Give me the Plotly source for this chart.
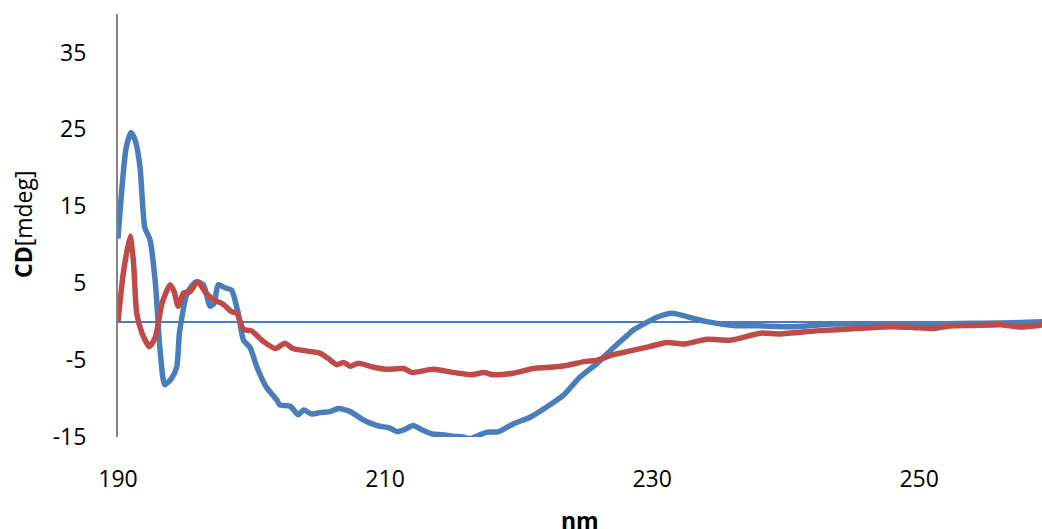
import plotly.graph_objects as go

# CD spectra: wavelength (nm) and ellipticity (mdeg)
blue_nm = [190.0, 190.3, 190.6, 190.97, 191.3, 191.65, 192.0, 192.4, 192.8, 193.15, 193.5,
           194.0, 194.4, 194.6, 195.1, 195.5, 195.9, 196.4, 196.9, 197.2, 197.5, 198.0,
           198.5, 199.0, 199.4, 199.9, 200.4, 201.1, 201.9, 202.1, 202.9, 203.5, 203.9,
           204.5, 205.2, 205.9, 206.5, 207.4, 208.2, 208.9, 209.6, 210.3, 210.9, 211.5,
           212.1, 212.8, 213.5, 214.3, 215.1, 215.8, 216.4, 217.0, 217.6, 218.5, 219.6,
           220.9, 222.1, 223.4, 224.6, 225.9, 227.1, 228.0, 228.6, 229.5, 230.4, 231.5,
           232.6, 234.1, 236.1, 238.0, 240.6, 242.0, 243.6, 245.0, 247.0, 249.0, 251.0,
           253.0, 255.0, 257.0, 259.3]
blue_cd = [10.8, 17.5, 22.5, 24.6, 23.5, 20.1, 12.3, 10.6, 5.0, -3.7, -8.2,
           -7.4, -5.9, -1.5, 3.3, 4.6, 5.2, 4.8, 2.0, 2.4, 4.8, 4.4,
           4.1, 1.1, -2.4, -3.4, -5.9, -8.5, -10.2, -10.8, -11.0, -12.1, -11.5,
           -12.0, -11.8, -11.7, -11.3, -11.7, -12.6, -13.2, -13.6, -13.8, -14.3, -14.0,
           -13.5, -14.1, -14.6, -14.7, -14.9, -15.0, -15.2, -14.8, -14.4, -14.3, -13.3,
           -12.4, -11.1, -9.5, -7.2, -5.4, -3.4, -2.0, -1.1, -0.2, 0.6, 1.1,
           0.65, 0.0, -0.5, -0.55, -0.65, -0.5, -0.3, -0.3, -0.3, -0.35, -0.3,
           -0.25, -0.2, -0.15, 0.0]

red_nm = [190.0, 190.4, 190.9, 191.15, 191.4, 191.8, 192.35, 192.8, 193.3, 193.9, 194.2,
          194.5, 194.9, 195.4, 195.95, 196.6, 197.2, 197.85, 198.5, 198.9, 199.4, 200.0,
          200.9, 201.8, 202.5, 203.1, 204.1, 205.1, 205.75, 206.4, 206.9, 207.4, 208.0,
          209.1, 210.1, 211.4, 212.0, 213.6, 215.1, 216.5, 217.4, 218.1, 219.6, 221.1,
          222.6, 223.6, 224.9, 225.9, 227.1, 228.1, 229.8, 231.1, 232.4, 234.1, 235.9,
          238.1, 239.6, 242.3, 245.3, 247.8, 249.5, 251.1, 252.3, 254.0, 256.1, 257.6,
          259.3]
red_cd = [0.0, 6.3, 11.1, 8.0, 1.1, -1.5, -3.25, -2.0, 2.4, 4.8, 3.9,
          2.0, 3.7, 3.9, 5.2, 3.7, 2.8, 2.3, 1.3, 1.1, -1.0, -1.2,
          -2.6, -3.5, -2.8, -3.5, -3.8, -4.1, -4.8, -5.6, -5.3, -5.8, -5.4,
          -5.9, -6.2, -6.1, -6.6, -6.2, -6.6, -6.9, -6.6, -6.9, -6.7, -6.1,
          -5.9, -5.7, -5.2, -5.0, -4.3, -3.9, -3.25, -2.7, -2.9, -2.3, -2.4,
          -1.5, -1.6, -1.2, -0.9, -0.65, -0.75, -0.9, -0.56, -0.5, -0.4, -0.7,
          -0.4]

x_ticks = [190, 210, 230, 250]
y_ticks = [-15, -5, 5, 15, 25, 35]
y_tick_text = ["-15", "-5", "5", "15", "25", "35"]

BLUE = "#4a7ebb"
RED = "#be4b48"
FONT = "Open Sans"
SIZE = 23

fig = go.Figure()
fig.add_trace(go.Scatter(x=blue_nm, y=blue_cd, mode="lines",
                         line=dict(color=BLUE, width=5.5, shape="spline", smoothing=0.6),
                         showlegend=False))
fig.add_trace(go.Scatter(x=red_nm, y=red_cd, mode="lines",
                         line=dict(color=RED, width=5.5, shape="spline", smoothing=0.6),
                         showlegend=False))

fig.update_layout(
    width=1042, height=529,
    margin=dict(l=118, r=0, t=14, b=92),
    paper_bgcolor="white", plot_bgcolor="white",
    font=dict(family=FONT, size=SIZE, color="black"),
    xaxis=dict(range=[190, 259.2], tickvals=x_ticks, showgrid=False,
               showline=False, zeroline=False, ticks="",
               ticklabelstandoff=26),
    yaxis=dict(range=[-15, 40], tickvals=y_ticks, ticktext=y_tick_text,
               showgrid=False, showline=True, linecolor="#868686", linewidth=2,
               zeroline=True, zerolinecolor=BLUE, zerolinewidth=2,
               ticks="", ticklabelstandoff=25),
    annotations=[
        dict(text="<b>CD</b>[mdeg]", xref="paper", yref="paper",
             x=(23 - 118) / 924, y=(437 - 224) / 423, textangle=-90,
             showarrow=False, xanchor="center", yanchor="middle",
             font=dict(family=FONT, size=SIZE, color="black")),
        dict(text="<b>nm</b>", xref="paper", yref="paper",
             x=0.5, y=(437 - 520) / 423, showarrow=False,
             xanchor="center", yanchor="middle",
             font=dict(family=FONT, size=SIZE, color="black")),
    ],
)

fig.write_html("out.html")
